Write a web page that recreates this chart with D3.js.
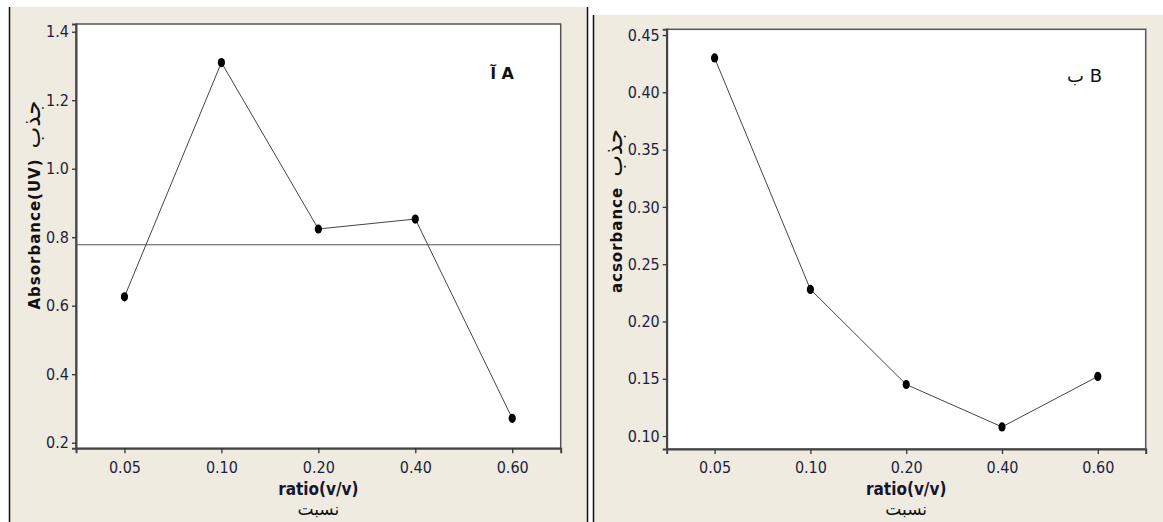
<!DOCTYPE html>
<html>
<head>
<meta charset="utf-8">
<script src="https://cdn.jsdelivr.net/npm/d3@7"></script>
<style>
  body { margin: 0; background: #ffffff; }
  svg { display: block; }
</style>
</head>
<body>
<script>
var svgWidth = 1163;
var svgHeight = 522;

// categories on the x axis (equal spacing, like a Minitab category axis)
var ratios = ["0.05", "0.10", "0.20", "0.40", "0.60"];

// panel A series + the mean reference line
var absorbanceA = [0.626, 1.310, 0.824, 0.853, 0.271];
var meanLineA = 0.778;
var yTicksA = [0.2, 0.4, 0.6, 0.8, 1.0, 1.2, 1.4];

// panel B series
var absorbanceB = [0.430, 0.228, 0.145, 0.108, 0.152];
var yTicksB = [0.10, 0.15, 0.20, 0.25, 0.30, 0.35, 0.40, 0.45];

var bg = "#efebe1";
var tickFont = "'DejaVu Sans', sans-serif";

var svg = d3.select("body")
  .append("svg")
  .attr("width", svgWidth)
  .attr("height", svgHeight);

// panel backgrounds and borders
svg.append("rect").attr("x", 9).attr("y", 7).attr("width", 578).attr("height", 515).attr("fill", bg);
svg.append("rect").attr("x", 593).attr("y", 15).attr("width", 570).attr("height", 507).attr("fill", bg);
[[9.5, 7], [587.5, 7], [593.5, 15]].forEach(function(p){
  svg.append("line")
    .attr("x1", p[0]).attr("x2", p[0])
    .attr("y1", p[1]).attr("y2", svgHeight)
    .attr("stroke", "#111").attr("stroke-width", 1.5);
});

function drawPanel(opt) {
  var x = d3.scalePoint()
    .domain(ratios)
    .range([opt.left, opt.right])
    .padding(0.5);

  var y = d3.scaleLinear()
    .domain(opt.yDomain)
    .range([opt.bottom, opt.top]);

  var g = svg.append("g");

  // white plot area with frame
  g.append("rect")
    .attr("x", opt.left).attr("y", opt.top)
    .attr("width", opt.right - opt.left)
    .attr("height", opt.bottom - opt.top)
    .attr("fill", "#fff")
    .attr("stroke", "#555")
    .attr("stroke-width", 1.5);

  var yAxis = g.append("g")
    .attr("transform", `translate(${opt.left},0)`)
    .call(d3.axisLeft(y).tickValues(opt.yTicks).tickFormat(d3.format(opt.fmt)).tickSizeOuter(0).tickSize(4).tickPadding(3));

  var xAxis = g.append("g")
    .attr("transform", `translate(0,${opt.bottom})`)
    .call(d3.axisBottom(x).tickSizeOuter(0).tickSize(5).tickPadding(8));

  [yAxis, xAxis].forEach(function(ax){
    ax.select(".domain").attr("stroke", "#444").attr("stroke-width", 2);
    ax.selectAll(".tick line").attr("stroke", "#333").attr("stroke-width", 1.3);
    ax.selectAll(".tick text")
      .attr("fill", "#1e1e3c")
      .style("font-family", tickFont)
      .style("font-stretch", "condensed")
      .style("font-size", "16px");
  });

  if (opt.refLine != null) {
    g.append("line")
      .attr("x1", opt.left).attr("x2", opt.right)
      .attr("y1", y(opt.refLine)).attr("y2", y(opt.refLine))
      .attr("stroke", "#555").attr("stroke-width", 1.2);
  }

  var line = d3.line()
    .x(function(d, i){ return x(ratios[i]); })
    .y(function(d){ return y(d); });

  g.append("path")
    .attr("d", line(opt.values))
    .attr("fill", "none")
    .attr("stroke", "#444")
    .attr("stroke-width", 1);

  g.selectAll("ellipse.pt")
    .data(opt.values)
    .enter()
    .append("ellipse")
    .attr("class", "pt")
    .attr("cx", function(d, i){ return x(ratios[i]); })
    .attr("cy", function(d){ return y(d); })
    .attr("rx", 3.6)
    .attr("ry", 4.6)
    .attr("fill", "#000");

  // panel letter
  g.append("text")
    .attr("x", opt.letterX).attr("y", opt.letterY)
    .attr("text-anchor", "end")
    .style("font-family", "'DejaVu Sans', sans-serif")
    .style("font-weight", opt.letterBold ? "bold" : "normal")
    .style("font-size", opt.letterSize + "px")
    .attr("fill", "#111")
    .text(opt.letter);

  // y title
  var yt = g.append("text")
    .attr("transform", `translate(${opt.yTitleX},${opt.yTitleMid}) rotate(-90)`)
    .attr("text-anchor", "middle")
    .attr("fill", "#111");
  yt.append("tspan")
    .style("font-family", "'DejaVu Sans', sans-serif")
    .style("font-weight", "bold")
    .style("font-size", "15px")
    .attr("letter-spacing", opt.yTitleSpacing)
    .text(opt.yTitle);
  yt.append("tspan")
    .attr("dx", 10)
    .style("font-family", "'DejaVu Sans', sans-serif")
    .style("font-size", "23px")
    .text("جذب");

  // x title
  var cx = (opt.left + opt.right) / 2;
  g.append("text")
    .attr("x", cx).attr("y", 495)
    .attr("text-anchor", "middle")
    .style("font-family", tickFont)
    .style("font-stretch", "condensed")
    .style("font-weight", "bold")
    .style("font-size", "17px")
    .attr("fill", "#151530")
    .text("ratio(v/v)");
  g.append("text")
    .attr("x", cx).attr("y", 515)
    .attr("text-anchor", "middle")
    .style("font-family", "'DejaVu Sans', sans-serif")
    .style("font-size", "17px")
    .attr("fill", "#111")
    .text("نسبت");
}

drawPanel({
  left: 76, right: 560.7, top: 24, bottom: 448.3,
  yDomain: [0.1836, 1.4225],
  yTicks: yTicksA, fmt: ".1f",
  values: absorbanceA,
  refLine: meanLineA,
  letter: "آ A", letterX: 514, letterY: 79, letterSize: 16, letterBold: true,
  yTitle: "Absorbance(UV)", yTitleX: 40, yTitleMid: 205, yTitleSpacing: 1
});

drawPanel({
  left: 666.7, right: 1145.7, top: 29.3, bottom: 449,
  yDomain: [0.0887, 0.455],
  yTicks: yTicksB, fmt: ".2f",
  values: absorbanceB,
  refLine: null,
  letter: "ب B", letterX: 1102, letterY: 81.5, letterSize: 18, letterBold: false,
  yTitle: "acsorbance", yTitleX: 622, yTitleMid: 211, yTitleSpacing: 1
});
</script>
</body>
</html>
